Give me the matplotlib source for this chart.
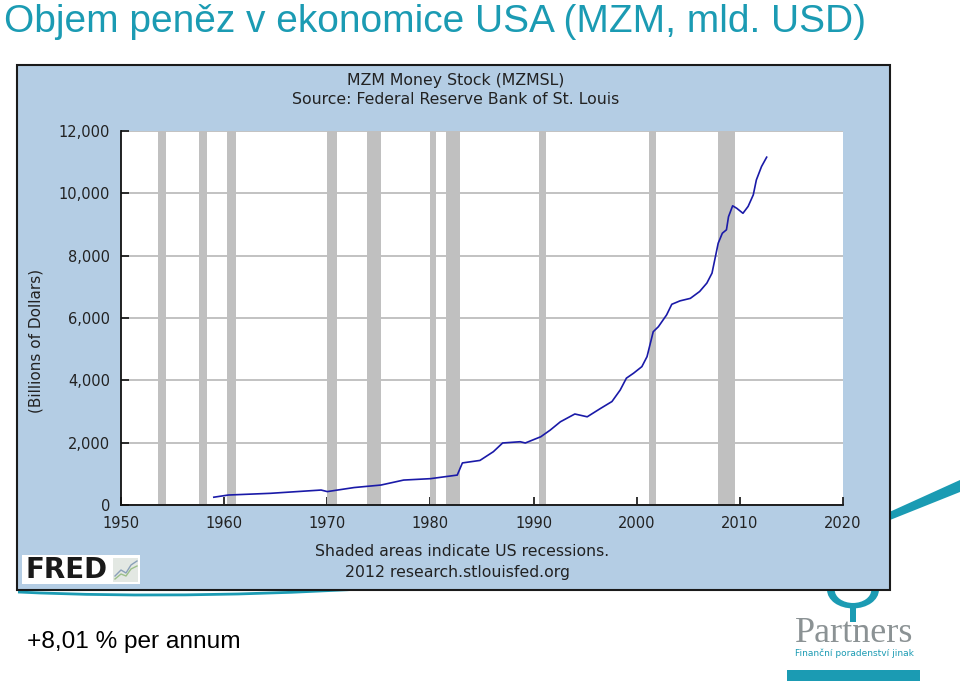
import matplotlib
matplotlib.use("Agg")
import matplotlib.pyplot as plt
import matplotlib.patches as mpatches
from matplotlib.lines import Line2D
from matplotlib.path import Path
import numpy as np

# MZM (billions USD)
years = [1959.0, 1960.4, 1964.5, 1969.4, 1970.0, 1972.6, 1975.2, 1977.4, 1980.0,
         1982.6, 1983.1, 1984.8, 1986.1, 1987.0, 1988.7, 1989.2, 1990.7, 1991.6,
         1992.6, 1994.0, 1995.2, 1996.5, 1997.6, 1998.4, 1999.0, 1999.7, 2000.5,
         2001.0, 2001.6, 2002.1, 2002.9, 2003.4, 2004.2, 2005.2, 2006.1, 2006.8,
         2007.3, 2007.6, 2007.9, 2008.3, 2008.7, 2008.9, 2009.3, 2009.7, 2010.3,
         2010.8, 2011.3, 2011.6, 2012.1, 2012.6]
mzm = [250, 320, 375, 480, 430, 560, 640, 800, 845,
       960, 1350, 1430, 1710, 1990, 2030, 1990, 2190, 2400,
       2670, 2920, 2830, 3100, 3320, 3690, 4070, 4230, 4440,
       4760, 5560, 5720, 6100, 6440, 6550, 6630, 6850, 7120,
       7440, 7920, 8400, 8720, 8830, 9250, 9600, 9520, 9360,
       9580, 9950, 10430, 10860, 11160]

# NBER recessions (start, end)
rec_start = [1953.55, 1957.6, 1960.3, 1969.95, 1973.85, 1980.0, 1981.5, 1990.5, 2001.2, 2007.9]
rec_end = [1954.4, 1958.3, 1961.15, 1970.9, 1975.2, 1980.55, 1982.9, 1991.2, 2001.9, 2009.5]

x_ticks = [1950, 1960, 1970, 1980, 1990, 2000, 2010, 2020]
y_ticks = [0, 2000, 4000, 6000, 8000, 10000, 12000]

W, H = 960, 683
TEAL = "#1b9bb3"
PANEL = "#b4cde4"
DARK = "#222222"


def fx(px):
    return px / W


def fy(py):
    return 1 - py / H


fig = plt.figure(figsize=(9.6, 6.83), dpi=100)

# slide title
fig.text(fx(4), fy(22), "Objem peněz v ekonomice USA (MZM, mld. USD)",
         color=TEAL, fontsize=28, va="center", ha="left", family="Liberation Sans")

# decorative swoosh behind the panel
verts = [(fx(18), fy(592)), (fx(250), fy(603)), (fx(600), fy(585)), (fx(890), fy(518))]
swoosh = mpatches.PathPatch(Path(verts, [Path.MOVETO, Path.CURVE4, Path.CURVE4, Path.CURVE4]),
                            fill=False, edgecolor=TEAL, lw=2, transform=fig.transFigure, zorder=-3)
fig.add_artist(swoosh)
tail = mpatches.Polygon([(fx(885), fy(514)), (fx(960), fy(480)), (fx(960), fy(492)), (fx(885), fy(522))],
                        closed=True, facecolor=TEAL, edgecolor="none", transform=fig.transFigure, zorder=-3)
fig.add_artist(tail)

# Partners logo icon (partly hidden by panel)
ring = mpatches.Wedge((fx(853), fy(590)), 0.027, 180, 360, width=0.008,
                      facecolor=TEAL, edgecolor="none", transform=fig.transFigure, zorder=-3)
fig.add_artist(ring)
trunk = mpatches.Rectangle((fx(850), fy(622)), fx(6), 18 / H, facecolor=TEAL,
                           edgecolor="none", transform=fig.transFigure, zorder=-3)
fig.add_artist(trunk)

# FRED panel
panel = mpatches.Rectangle((fx(17), fy(590)), fx(873), 525 / H, facecolor=PANEL,
                           edgecolor="#1a1a1a", lw=1.5, transform=fig.transFigure, zorder=-1)
fig.add_artist(panel)

ax = fig.add_axes([fx(121), fy(505), fx(722), 374 / H])
ax.set_facecolor("white")
for s, e in zip(rec_start, rec_end):
    ax.axvspan(s, e, color="#c0c0c0", lw=0, zorder=1)
ax.plot(years, mzm, color="#1a1aa8", lw=1.2, zorder=3)
ax.set_xlim(1950, 2020)
ax.set_ylim(0, 12000)
ax.set_xticks(x_ticks)
ax.set_yticks(y_ticks)
ax.set_xticklabels([str(x) for x in x_ticks])
ax.set_yticklabels([f"{y:,}" for y in y_ticks])
ax.yaxis.grid(True, color="#b8b8b8", lw=1.2, zorder=0)
ax.set_axisbelow(True)
for side in ["top", "right"]:
    ax.spines[side].set_visible(False)
for side in ["left", "bottom"]:
    ax.spines[side].set_color("#111111")
    ax.spines[side].set_linewidth(1.3)
ax.tick_params(direction="in", length=6, width=1.2, color="#111111",
               labelsize=10.5, labelcolor=DARK)
ax.tick_params(axis="x", pad=8)
ax.tick_params(axis="y", pad=8)
ax.set_ylabel("(Billions of Dollars)", fontsize=11, color=DARK)
ax.yaxis.set_label_coords(-0.107, 0.4385)

fig.text(fx(456), fy(80), "MZM Money Stock (MZMSL)", ha="center", va="center",
         fontsize=11.3, color=DARK)
fig.text(fx(456), fy(100), "Source: Federal Reserve Bank of St. Louis", ha="center", va="center",
         fontsize=11.3, color=DARK)
fig.text(fx(462), fy(552), "Shaded areas indicate US recessions.", ha="center", va="center",
         fontsize=11.3, color=DARK)
fig.text(fx(457), fy(572), "2012 research.stlouisfed.org", ha="center", va="center",
         fontsize=11.3, color=DARK)

# FRED logo
logo = mpatches.Rectangle((fx(22), fy(584)), fx(118), 29 / H, facecolor="white",
                          edgecolor="none", transform=fig.transFigure, zorder=1)
fig.add_artist(logo)
fig.text(fx(25), fy(570), "FRED", fontsize=20, fontweight="heavy", color="#1a1a1a",
         va="center", ha="left")
icon = mpatches.Rectangle((fx(113), fy(582)), fx(25), 24 / H, facecolor="#e3e8e3",
                          edgecolor="none", transform=fig.transFigure, zorder=2)
fig.add_artist(icon)
fig.add_artist(Line2D([fx(115), fx(121), fx(126), fx(131), fx(137)],
                      [fy(576), fy(570), fy(573), fy(565), fy(561)],
                      color="#8aa0b8", lw=1, transform=fig.transFigure, zorder=3))
fig.add_artist(Line2D([fx(115), fx(121), fx(126), fx(131), fx(137)],
                      [fy(579), fy(574), fy(576), fy(569), fy(566)],
                      color="#9cbf8a", lw=1, transform=fig.transFigure, zorder=3))

# slide footer
fig.text(fx(27), fy(642), "+8,01 % per annum", fontsize=17.6, color="black",
         va="center", ha="left", family="Liberation Sans")
fig.text(fx(854), fy(633), "Partners", fontsize=26, color="#8b9294", va="center",
         ha="center", family="Liberation Serif")
fig.text(fx(854), fy(653), "Finanční poradenství jinak", fontsize=6.5, color=TEAL,
         va="center", ha="center", family="DejaVu Sans")
bar = mpatches.Rectangle((fx(787), fy(681)), fx(133), 11 / H, facecolor=TEAL,
                         edgecolor="none", transform=fig.transFigure)
fig.add_artist(bar)

fig.savefig("out.png", dpi=100)
